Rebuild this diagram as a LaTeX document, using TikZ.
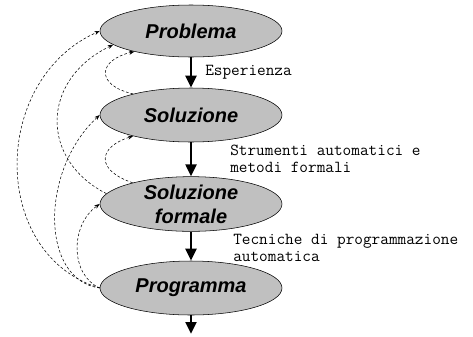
\documentclass[tikz,border=0pt]{standalone}
\usepackage{fontspec}
\setmainfont{Liberation Sans}
\usepackage{tikz}
\usetikzlibrary{shapes.geometric, arrows.meta, positioning}
\definecolor{stepgray}{RGB}{192,192,192}

\begin{document}
\begin{tikzpicture}[x=0.75pt, y=-0.75pt,
        phase/.style={ellipse, draw, thin, fill=stepgray, minimum width=182*0.75pt, minimum height=54*0.75pt, inner sep=0pt, align=center, font=\fontsize{15}{18}\selectfont\bfseries\itshape},
        note/.style={anchor=west, align=left, inner sep=0pt, font=\ttfamily\fontsize{12.6}{13}\selectfont},
        flow/.style={-{Triangle[length=9pt, width=8pt]}, line width=2.2pt},
        back/.style={-{Stealth[length=4pt, width=3pt]}, thin, dash pattern=on 2pt off 1.5pt}
    ]
        \useasboundingbox (0,0) rectangle (473,336);

        \node[phase, minimum height=52*0.75pt] (prob) at (191,31) {Problema};
        \node[phase] (sol) at (191,115) {Soluzione};
        \node[phase] (solf) at (191,204) {Soluzione\\formale};
        \node[phase] (prog) at (191,288) {Programma};
        \coordinate (out) at (191,334);

        \node[note] (esp) at (205,72) {Esperienza};
        \node[note] (strum) at (230,159) {Strumenti automatici e\\metodi formali};
        \node[note] (tecn) at (233,248) {Tecniche di programmazione\\automatica};

        \draw[flow] (prob) -- (sol);
        \draw[flow] (sol) -- (solf);
        \draw[flow] (solf) -- (prog);
        \draw[flow] (prog) -- (out);

        % feedback
        \draw[back] (prog.west) .. controls (-10,255) and (-10,80) .. (prob.west);
        \draw[back] (prog.west) .. controls (40,280) and (40,170) .. (sol.west);
        \draw[back] (prog.west) .. controls (70,275) and (70,225) .. (solf.west);
        \draw[back] (solf.173) .. controls (40,160) and (40,80) .. (prob.190);
        \draw[back] (sol.160) .. controls (95,85) and (98,60) .. (prob.200);
        \draw[back] (solf.160) .. controls (95,170) and (98,147) .. (sol.200);
    \end{tikzpicture}
\end{document}
